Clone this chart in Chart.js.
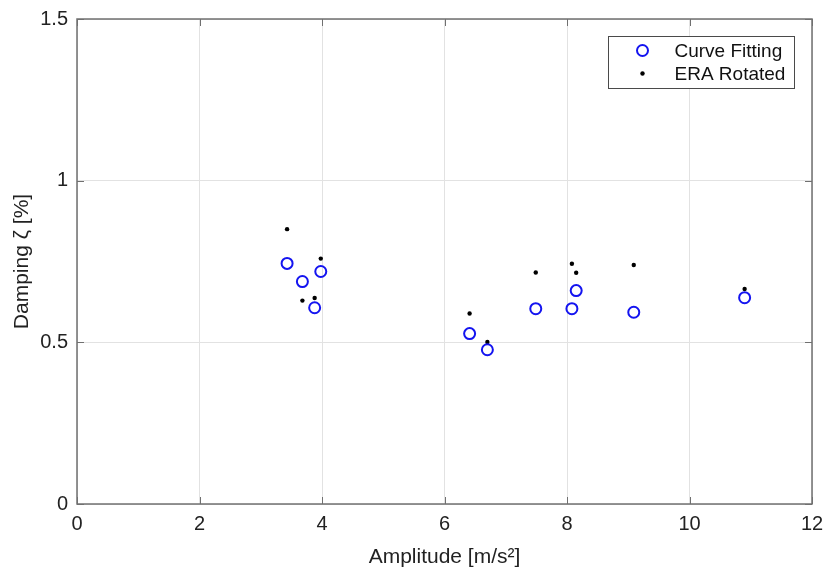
<!DOCTYPE html>
<html>
<head>
<meta charset="utf-8">
<script src="https://cdn.jsdelivr.net/npm/chart.js@4/dist/chart.umd.min.js"></script>
<style>
  html, body { margin: 0; padding: 0; background: #fff; }
  #wrap { width: 826px; height: 573px; }
</style>
</head>
<body>
<div id="wrap"><canvas id="dampingChart" width="826" height="573"></canvas></div>
<script>
// values
var amplitude    = [3.43, 3.68, 3.88, 3.98, 6.41, 6.70, 7.49, 8.08, 8.15, 9.09, 10.90];
var curveFitting = [0.744, 0.688, 0.607, 0.719, 0.527, 0.477, 0.604, 0.604, 0.660, 0.593, 0.638];
var eraRotated   = [0.850, 0.629, 0.637, 0.759, 0.589, 0.501, 0.716, 0.743, 0.715, 0.739, 0.665];
var seriesNames  = ['Curve Fitting', 'ERA Rotated'];

var FONT = '"Liberation Sans", Arial, Helvetica, sans-serif';
var AXIS_COLOR = '#707070';

function toPoints(xs, ys) {
    return xs.map(function (x, i) { return { x: x, y: ys[i] }; });
}

// box round the axes, inward ticks, legend inside the plot
var matlabAxes = {
    id: 'matlabAxes',
    afterDatasetsDraw: function (chart) {
        var ctx = chart.ctx, a = chart.chartArea;
        var xs = chart.scales.x, ys = chart.scales.y;
        ctx.save();
        ctx.strokeStyle = AXIS_COLOR;
        ctx.lineWidth = 1.5;
        ctx.strokeRect(a.left, a.top, a.right - a.left, a.bottom - a.top);
        ctx.lineWidth = 1;
        ctx.beginPath();
        xs.ticks.forEach(function (t) {
            var px = Math.round(xs.getPixelForValue(t.value)) + 0.5;
            ctx.moveTo(px, a.bottom); ctx.lineTo(px, a.bottom - 7);
            ctx.moveTo(px, a.top); ctx.lineTo(px, a.top + 7);
        });
        ys.ticks.forEach(function (t) {
            var py = Math.round(ys.getPixelForValue(t.value)) + 0.5;
            ctx.moveTo(a.left, py); ctx.lineTo(a.left + 7, py);
            ctx.moveTo(a.right, py); ctx.lineTo(a.right - 7, py);
        });
        ctx.stroke();

        // legend
        var bx = 608.5, by = 36.5, bw = 186, bh = 52;
        ctx.fillStyle = '#fff';
        ctx.fillRect(bx, by, bw, bh);
        ctx.strokeStyle = '#4a4a4a';
        ctx.lineWidth = 1;
        ctx.strokeRect(bx, by, bw, bh);
        ctx.font = '19px ' + FONT;
        ctx.textBaseline = 'middle';
        ctx.fillStyle = '#111';
        chart.data.datasets.forEach(function (ds, i) {
            var cy = by + 14 + i * 23;
            ctx.beginPath();
            ctx.arc(bx + 34, cy, ds.pointRadius, 0, Math.PI * 2);
            if (ds.pointBackgroundColor !== 'rgba(0,0,0,0)') {
                ctx.fillStyle = ds.pointBackgroundColor;
                ctx.fill();
            }
            if (ds.pointBorderWidth > 0) {
                ctx.strokeStyle = ds.pointBorderColor;
                ctx.lineWidth = ds.pointBorderWidth;
                ctx.stroke();
            }
            ctx.fillStyle = '#111';
            ctx.fillText(ds.label, bx + 66, cy + 1);
        });
        ctx.restore();
    }
};

new Chart(document.getElementById('dampingChart').getContext('2d'), {
    type: 'scatter',
    data: {
        datasets: [{
            label: seriesNames[0],
            data: toPoints(amplitude, curveFitting),
            pointStyle: 'circle',
            pointRadius: 5.5,
            pointBorderWidth: 2,
            pointBorderColor: '#1414f0',
            pointBackgroundColor: 'rgba(0,0,0,0)',
            showLine: false
        }, {
            label: seriesNames[1],
            data: toPoints(amplitude, eraRotated),
            pointStyle: 'circle',
            pointRadius: 2.2,
            pointBorderWidth: 0,
            pointBorderColor: '#000',
            pointBackgroundColor: '#000',
            showLine: false
        }]
    },
    options: {
        responsive: false,
        animation: false,
        layout: { padding: { left: 0, right: 14, top: 19, bottom: 0 } },
        plugins: { legend: { display: false }, tooltip: { enabled: false } },
        scales: {
            x: {
                type: 'linear',
                min: 0, max: 12,
                ticks: { stepSize: 2, padding: 8, color: '#222', font: { family: FONT, size: 20 } },
                grid: { color: '#e2e2e2', drawTicks: false },
                border: { display: false },
                title: {
                    display: true,
                    text: 'Amplitude [m/s²]',
                    color: '#222',
                    font: { family: FONT, size: 21 },
                    padding: { top: 0, bottom: 3 }
                },
                afterFit: function (s) { s.height = 69; s.paddingLeft = 0; s.paddingRight = 0; }
            },
            y: {
                type: 'linear',
                min: 0, max: 1.5,
                ticks: {
                    stepSize: 0.5, padding: 9, color: '#222', font: { family: FONT, size: 20 },
                    callback: function (v) { return String(v); }
                },
                grid: { color: '#e2e2e2', drawTicks: false },
                border: { display: false },
                title: {
                    display: true,
                    text: 'Damping ζ [%]',
                    color: '#222',
                    font: { family: FONT, size: 21 },
                    padding: { top: 10, bottom: 0 }
                },
                afterFit: function (s) { s.width = 77; s.paddingTop = 0; s.paddingBottom = 0; }
            }
        }
    },
    plugins: [matlabAxes]
});
</script>
</body>
</html>
